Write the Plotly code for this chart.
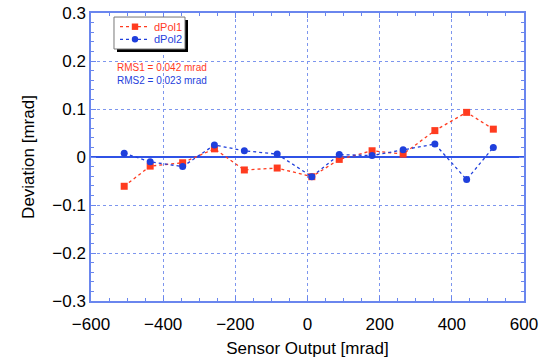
import plotly.graph_objects as go

sensor_x = [-508, -436, -346, -258, -175, -84, 12, 88, 179, 265, 353, 441, 515]
dpol1 = [-0.061, -0.019, -0.012, 0.017, -0.027, -0.023, -0.041, -0.005, 0.013, 0.006, 0.055, 0.093, 0.058]
dpol2 = [0.008, -0.010, -0.020, 0.025, 0.013, 0.006, -0.041, 0.005, 0.003, 0.015, 0.027, -0.047, 0.020]
series_names = ["dPol1", "dPol2"]
rms_labels = ["RMS1 = 0.042 mrad", "RMS2 = 0.023 mrad"]

RED = "#ff3b1f"
BLUE = "#1f3fdc"
AXIS = "#6a86ee"
GRID = "rgb(125,150,238)"
FONT = "Liberation Sans, Arial"

fig = go.Figure()
fig.add_trace(go.Scatter(
    x=sensor_x, y=dpol1, mode="lines+markers", name=series_names[0], showlegend=False,
    line=dict(color=RED, width=1.3, dash="3px,3px"),
    marker=dict(symbol="square", size=7, color=RED)))
fig.add_trace(go.Scatter(
    x=sensor_x, y=dpol2, mode="lines+markers", name=series_names[1], showlegend=False,
    line=dict(color=BLUE, width=1.3, dash="3px,3px"),
    marker=dict(symbol="circle", size=7, color=BLUE)))

axis_common = dict(
    showline=True, linecolor=AXIS, linewidth=1.5, mirror="ticks",
    ticks="inside", ticklen=5, tickcolor=AXIS, tickwidth=1,
    showgrid=True, gridcolor=GRID, griddash="dot", gridwidth=1,
    tickfont=dict(family=FONT, size=17, color="black"),
    title_font=dict(family=FONT, size=17, color="black"),
    automargin=False, ticklabeloverflow="allow",
)

fig.update_xaxes(range=[-600, 600], dtick=200, tick0=-600,
                 title_text="Sensor Output [mrad]", title_standoff=10,
                 ticklabelstandoff=7,
                 zeroline=False,
                 minor=dict(dtick=50, ticks="inside", ticklen=3, tickcolor=AXIS, showgrid=False),
                 **axis_common)
fig.update_yaxes(range=[-0.3, 0.3], dtick=0.1, tick0=-0.3,
                 title_text="Deviation [mrad]", title_standoff=13,
                 zeroline=True, zerolinecolor="#2f52e6", zerolinewidth=1.5,
                 minor=dict(dtick=0.02, ticks="inside", ticklen=3, tickcolor=AXIS, showgrid=False),
                 **axis_common)

# RMS annotations
fig.add_annotation(x=0.0554, y=0.8125, xref="paper", yref="paper", xanchor="left", yanchor="middle",
                   text=rms_labels[0], showarrow=False,
                   font=dict(family=FONT, size=10, color=RED))
fig.add_annotation(x=0.0554, y=0.767, xref="paper", yref="paper", xanchor="left", yanchor="middle",
                   text=rms_labels[1], showarrow=False,
                   font=dict(family=FONT, size=10, color=BLUE))

# custom legend box with drop shadow
PW, PH = 433.0, 288.0
bx0, bx1, by0, by1 = 0.0531, 0.2171, 0.875, 0.986
fig.add_shape(type="rect", xref="paper", yref="paper",
              x0=bx0 + 3 / PW, x1=bx1 + 3 / PW, y0=by0 - 3 / PH, y1=by1 - 3 / PH,
              fillcolor="black", line=dict(width=0), layer="above")
fig.add_shape(type="rect", xref="paper", yref="paper",
              x0=bx0, x1=bx1, y0=by0, y1=by1,
              fillcolor="white", line=dict(color="#777777", width=1), layer="above")
rows_y = [0.9524, 0.9087]
colors = [RED, BLUE]
for i, (name, col, ry) in enumerate(zip(series_names, colors, rows_y)):
    fig.add_shape(type="line", xref="paper", yref="paper",
                  x0=0.067, x1=0.134, y0=ry, y1=ry,
                  line=dict(color=col, width=1.2, dash="3px,3px"), layer="above")
    hx, hy = 3.2 / PW, 3.2 / PH
    fig.add_shape(type="rect" if i == 0 else "circle", xref="paper", yref="paper",
                  x0=0.1016 - hx, x1=0.1016 + hx, y0=ry - hy, y1=ry + hy,
                  fillcolor=col, line=dict(width=0), layer="above")
    fig.add_annotation(x=0.141, y=ry, xref="paper", yref="paper", xanchor="left", yanchor="middle",
                       text=name, showarrow=False,
                       font=dict(family=FONT, size=11, color=col))

fig.update_layout(
    width=545, height=358,
    margin=dict(l=91, r=21, t=13, b=57),
    paper_bgcolor="white", plot_bgcolor="white",
    showlegend=False,
)

fig.write_html("out.html", config={"displayModeBar": False},
               post_script="document.body.style.margin='0';document.body.style.overflow='hidden';")
